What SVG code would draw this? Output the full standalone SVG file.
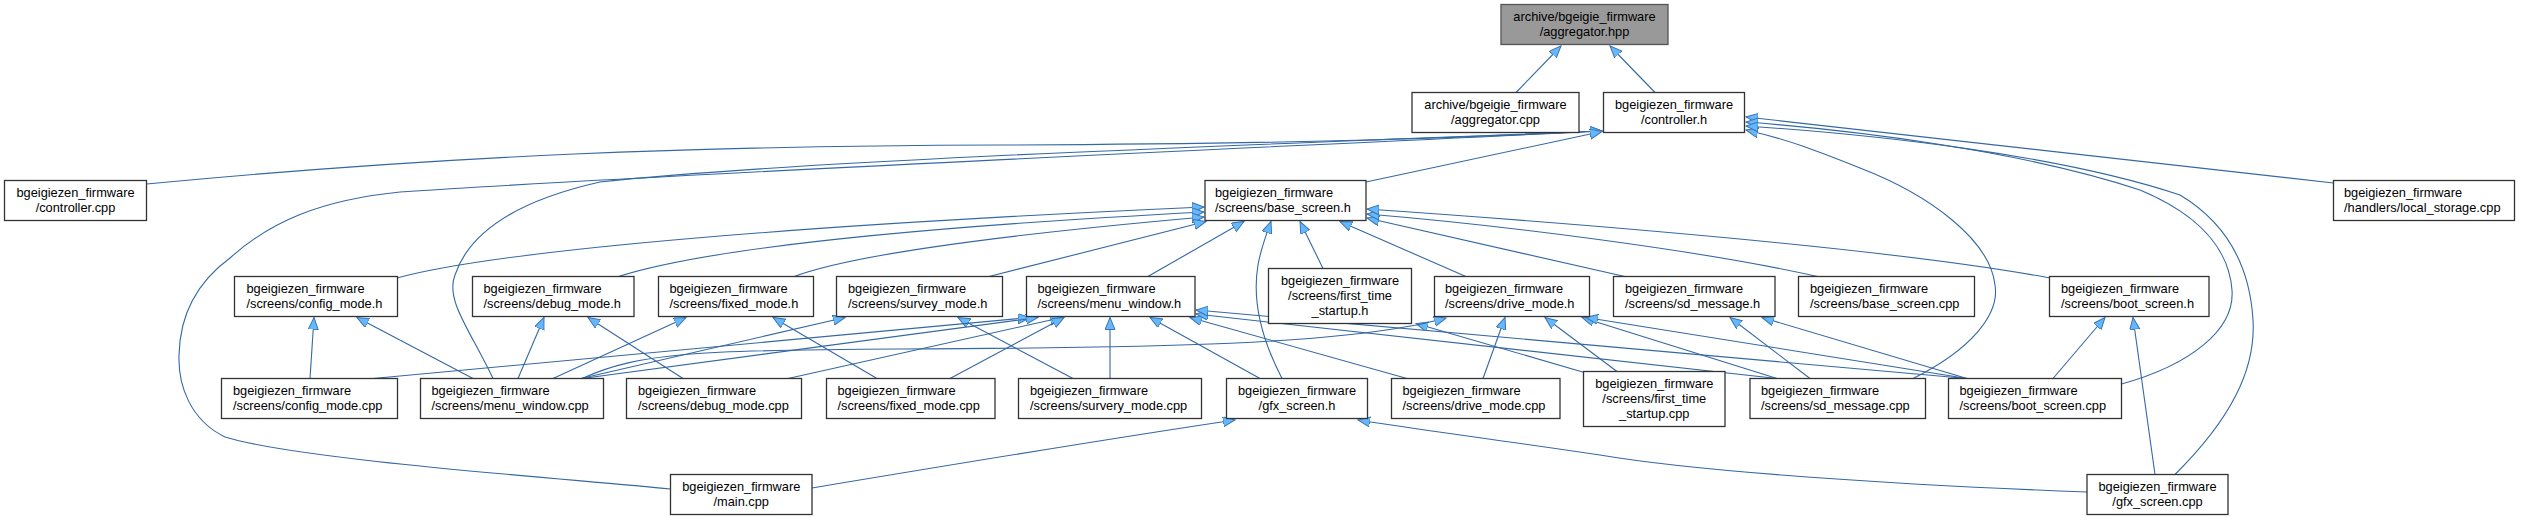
<svg xmlns="http://www.w3.org/2000/svg" width="2521" height="520" viewBox="0 0 2521 520">
<style>
.n rect{fill:#ffffff;stroke:#333333;stroke-width:1.3}
.n text{font-family:"Liberation Sans",Arial,Helvetica,sans-serif;font-size:12.8px;fill:#000}
.c{text-anchor:middle}
.hl rect{fill:#999999;stroke:#555555}
.e path{fill:none;stroke:#3468a3;stroke-width:1.1;marker-end:url(#ah)}
</style>
<defs>
<marker id="ah" markerUnits="userSpaceOnUse" markerWidth="14" markerHeight="12" refX="12" refY="5" orient="auto">
<path d="M0,0 L12,5 L0,10 z" fill="#63b8ff" stroke="#3f74ac" stroke-width="1"/>
</marker>
</defs>
<rect width="2521" height="520" fill="#ffffff"/>

<g id="edges" class="e">
<path d="M1516,92.5 L1561,46"/>
<path d="M1655,92.5 L1610,46"/>
<path d="M146.5,184 C450,155 700,146 1000,145 S1450,138 1602,131"/>
<path d="M670.5,489 C560,478 300,460 225,437 C190,420 178,385 179,355 C180,310 200,280 230,258 C270,222 320,200 400,192 C700,172 1300,146 1602,131"/>
<path d="M493,378.5 C470,330 445,300 455,275 C470,230 520,200 600,182 C800,160 1300,143 1602,131"/>
<path d="M1366,182 L1602,131.5"/>
<path d="M2333.5,183 L1746,117"/>
<path d="M1913,378.5 C1970,350 2000,315 1995,285 C1990,240 1930,195 1860,168 C1820,152 1790,140 1746,130"/>
<path d="M2121.5,384 C2190,365 2235,330 2232,290 C2229,250 2200,215 2140,190 C2020,150 1850,130 1746,122"/>
<path d="M2175,474.5 C2230,420 2256,370 2253,320 C2250,270 2230,225 2180,195 C2060,155 1880,135 1746,126"/>
<path d="M397,278 C500,250 800,225 1204,207"/>
<path d="M617,277 C700,250 900,228 1204,212"/>
<path d="M793,277 C850,255 1000,235 1204,217"/>
<path d="M987,277 L1206,221.5"/>
<path d="M1147,277 L1244,221.5"/>
<path d="M1282,378.5 C1262,340 1252,300 1258,265 C1261,248 1265,238 1271,221.5"/>
<path d="M1323,268.5 L1300,221.5"/>
<path d="M1467,277 L1340,221.5"/>
<path d="M1627,277 L1367,218"/>
<path d="M1820,277 C1700,250 1500,225 1367,214"/>
<path d="M2050,278 C1900,250 1600,225 1367,209"/>
<path d="M310,378.5 L314,317.5"/>
<path d="M473,378.5 L357,317.5"/>
<path d="M518,378.5 L544,317.5"/>
<path d="M683,378.5 L588,317.5"/>
<path d="M553,378.5 L686,317.5"/>
<path d="M877,378.5 L773,317.5"/>
<path d="M581,378.5 L845,317.5"/>
<path d="M1073,378.5 L958,317.5"/>
<path d="M373,378.5 L1030,317.5"/>
<path d="M582,378.5 L1038,317.5"/>
<path d="M788,378.5 L1062,317.5"/>
<path d="M950,378.5 L1064,317.5"/>
<path d="M1110,378.5 L1110,317.5"/>
<path d="M1260,378.5 L1150,317.5"/>
<path d="M1407,378.5 L1190,317.5"/>
<path d="M1777,378.5 L1196,314"/>
<path d="M1967,378.5 L1196,310"/>
<path d="M1586,373 L1416,323.5"/>
<path d="M582,378.5 C640,352 700,350 900,349 C1150,348 1350,345 1446,318"/>
<path d="M1483,378.5 L1505,317.5"/>
<path d="M1617,371.5 L1545,317.5"/>
<path d="M1777,378.5 L1582,317.5"/>
<path d="M1967,378.5 L1586,317.5"/>
<path d="M1810,378.5 L1730,317.5"/>
<path d="M1967,378.5 L1762,317.5"/>
<path d="M2053,378.5 L2105,317.5"/>
<path d="M2155,474.5 L2133,317.5"/>
<path d="M812,488 C950,465 1100,440 1235,420"/>
<path d="M2087,492 C1900,485 1700,472 1600,455 C1500,440 1420,430 1358,420"/>
</g>

<g id="node-aggregator-hpp" class="n hl"><rect x="1501" y="4.5" width="167" height="40"/><text class="c" x="1584.5" y="20.5">archive/bgeigie_firmware</text><text class="c" x="1584.5" y="35.5">/aggregator.hpp</text></g>
<g id="node-aggregator-cpp" class="n"><rect x="1412" y="92.5" width="167" height="40"/><text class="c" x="1495.5" y="108.5">archive/bgeigie_firmware</text><text class="c" x="1495.5" y="123.5">/aggregator.cpp</text></g>
<g id="node-controller-h" class="n"><rect x="1603.5" y="92.5" width="141" height="40"/><text class="c" x="1674" y="108.5">bgeigiezen_firmware</text><text class="c" x="1674" y="123.5">/controller.h</text></g>
<g id="node-controller-cpp" class="n"><rect x="4.5" y="180.5" width="142" height="40"/><text class="c" x="75.5" y="196.5">bgeigiezen_firmware</text><text class="c" x="75.5" y="211.5">/controller.cpp</text></g>
<g id="node-base-screen-h" class="n"><rect x="1205" y="180.5" width="161" height="40"/><text x="1215" y="196.5">bgeigiezen_firmware</text><text x="1215" y="211.5">/screens/base_screen.h</text></g>
<g id="node-local-storage-cpp" class="n"><rect x="2333.5" y="180.5" width="181" height="40"/><text x="2344" y="196.5">bgeigiezen_firmware</text><text x="2344" y="211.5">/handlers/local_storage.cpp</text></g>

<g id="node-config-mode-h" class="n"><rect x="234.5" y="276.5" width="163" height="40"/><text x="246.5" y="292.5">bgeigiezen_firmware</text><text x="246.5" y="307.5">/screens/config_mode.h</text></g>
<g id="node-debug-mode-h" class="n"><rect x="472.5" y="276.5" width="161.5" height="40"/><text x="483.5" y="292.5">bgeigiezen_firmware</text><text x="483.5" y="307.5">/screens/debug_mode.h</text></g>
<g id="node-fixed-mode-h" class="n"><rect x="658.5" y="276.5" width="155" height="40"/><text x="669.5" y="292.5">bgeigiezen_firmware</text><text x="669.5" y="307.5">/screens/fixed_mode.h</text></g>
<g id="node-survey-mode-h" class="n"><rect x="836.5" y="276.5" width="166" height="40"/><text x="848" y="292.5">bgeigiezen_firmware</text><text x="848" y="307.5">/screens/survey_mode.h</text></g>
<g id="node-menu-window-h" class="n"><rect x="1026.5" y="276.5" width="168.5" height="40"/><text x="1037.5" y="292.5">bgeigiezen_firmware</text><text x="1037.5" y="307.5">/screens/menu_window.h</text></g>
<g id="node-first-time-startup-h" class="n"><rect x="1268.5" y="268.5" width="143" height="55"/><text class="c" x="1340" y="285">bgeigiezen_firmware</text><text class="c" x="1340" y="300">/screens/first_time</text><text class="c" x="1340" y="315">_startup.h</text></g>
<g id="node-drive-mode-h" class="n"><rect x="1434.5" y="276.5" width="155" height="40"/><text x="1445" y="292.5">bgeigiezen_firmware</text><text x="1445" y="307.5">/screens/drive_mode.h</text></g>
<g id="node-sd-message-h" class="n"><rect x="1613.5" y="276.5" width="161.5" height="40"/><text x="1625" y="292.5">bgeigiezen_firmware</text><text x="1625" y="307.5">/screens/sd_message.h</text></g>
<g id="node-base-screen-cpp" class="n"><rect x="1798.5" y="276.5" width="176" height="40"/><text x="1810" y="292.5">bgeigiezen_firmware</text><text x="1810" y="307.5">/screens/base_screen.cpp</text></g>
<g id="node-boot-screen-h" class="n"><rect x="2049.5" y="276.5" width="159.5" height="40"/><text x="2061" y="292.5">bgeigiezen_firmware</text><text x="2061" y="307.5">/screens/boot_screen.h</text></g>

<g id="node-config-mode-cpp" class="n"><rect x="221.5" y="378.5" width="176" height="40"/><text x="233" y="394.5">bgeigiezen_firmware</text><text x="233" y="409.5">/screens/config_mode.cpp</text></g>
<g id="node-menu-window-cpp" class="n"><rect x="420.5" y="378.5" width="183" height="40"/><text x="431.5" y="394.5">bgeigiezen_firmware</text><text x="431.5" y="409.5">/screens/menu_window.cpp</text></g>
<g id="node-debug-mode-cpp" class="n"><rect x="626.5" y="378.5" width="175" height="40"/><text x="638" y="394.5">bgeigiezen_firmware</text><text x="638" y="409.5">/screens/debug_mode.cpp</text></g>
<g id="node-fixed-mode-cpp" class="n"><rect x="826.5" y="378.5" width="168.5" height="40"/><text x="837.5" y="394.5">bgeigiezen_firmware</text><text x="837.5" y="409.5">/screens/fixed_mode.cpp</text></g>
<g id="node-survery-mode-cpp" class="n"><rect x="1018.5" y="378.5" width="183" height="40"/><text x="1030" y="394.5">bgeigiezen_firmware</text><text x="1030" y="409.5">/screens/survery_mode.cpp</text></g>
<g id="node-gfx-screen-h" class="n"><rect x="1226.5" y="378.5" width="141" height="40"/><text class="c" x="1297" y="394.5">bgeigiezen_firmware</text><text class="c" x="1297" y="409.5">/gfx_screen.h</text></g>
<g id="node-drive-mode-cpp" class="n"><rect x="1391.5" y="378.5" width="168.5" height="40"/><text x="1402.5" y="394.5">bgeigiezen_firmware</text><text x="1402.5" y="409.5">/screens/drive_mode.cpp</text></g>
<g id="node-first-time-startup-cpp" class="n"><rect x="1583.5" y="371.5" width="141.5" height="55"/><text class="c" x="1654.25" y="388">bgeigiezen_firmware</text><text class="c" x="1654.25" y="403">/screens/first_time</text><text class="c" x="1654.25" y="418">_startup.cpp</text></g>
<g id="node-sd-message-cpp" class="n"><rect x="1750" y="378.5" width="175.5" height="40"/><text x="1761" y="394.5">bgeigiezen_firmware</text><text x="1761" y="409.5">/screens/sd_message.cpp</text></g>
<g id="node-boot-screen-cpp" class="n"><rect x="1948.5" y="378.5" width="173" height="40"/><text x="1959.5" y="394.5">bgeigiezen_firmware</text><text x="1959.5" y="409.5">/screens/boot_screen.cpp</text></g>

<g id="node-main-cpp" class="n"><rect x="670.5" y="474.5" width="141.5" height="40"/><text class="c" x="741.25" y="490.5">bgeigiezen_firmware</text><text class="c" x="741.25" y="505.5">/main.cpp</text></g>
<g id="node-gfx-screen-cpp" class="n"><rect x="2087" y="474.5" width="141" height="40"/><text class="c" x="2157.5" y="490.5">bgeigiezen_firmware</text><text class="c" x="2157.5" y="505.5">/gfx_screen.cpp</text></g>
</svg>
